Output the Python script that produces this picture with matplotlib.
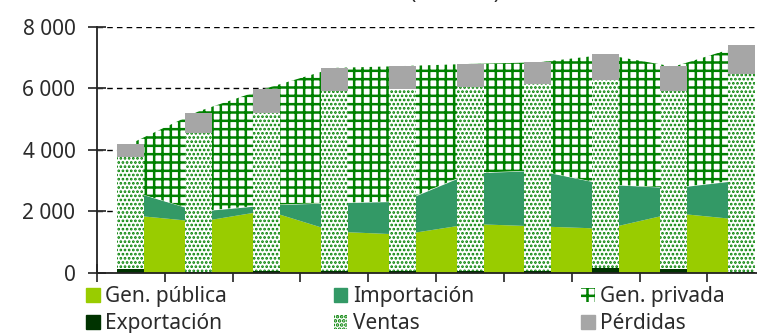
import numpy as np
import matplotlib
matplotlib.use("Agg")
import matplotlib.pyplot as plt
from matplotlib.patches import Patch

# values (GWh), one per year
gen_publica = [1885, 1672, 2034, 1350, 1256, 1600, 1522, 1445, 1952, 1735]
importacion = [772, 325, 169, 925, 1064, 1642, 1806, 1429, 810, 1282]
gen_privada = [1543, 3253, 3797, 4385, 4400, 3548, 3512, 4216, 3938, 4363]
exportacion = [110, 20, 70, 50, 60, 60, 40, 150, 130, 10]
ventas = [3640, 4510, 5130, 5865, 5910, 5965, 6082, 6113, 5775, 6448]
perdidas = [433, 670, 760, 728, 748, 758, 736, 845, 823, 942]

y_ticks = [0, 2000, 4000, 6000, 8000]
y_labels = ["0", "2 000", "4 000", "6 000", "8 000"]

C_PUB = "#99CC00"
C_IMP = "#339966"
C_GRID = "#008000"
C_EXP = "#003300"
C_PERD = "#A6A6A6"
TXT = "#2b2b2b"

plt.rcParams["font.family"] = ["Noto Sans", "DejaVu Sans"]
plt.rcParams["hatch.linewidth"] = 1.8


def set_hlw(artist, lw):
    if hasattr(artist, "set_hatch_linewidth"):
        artist.set_hatch_linewidth(lw)


n = len(gen_publica)
x = np.arange(n) + 0.5
pub = np.array(gen_publica, dtype=float)
imp_top = pub + np.array(importacion)
tot = imp_top + np.array(gen_privada)

fig = plt.figure(figsize=(7.57, 3.33), dpi=100)
ax = fig.add_axes([97 / 757, 60.3 / 333, 1 - 97 / 757, 246 / 333])

ax.fill_between(x, 0, pub, color=C_PUB, lw=0, zorder=1)
ax.fill_between(x, pub, imp_top, color=C_IMP, lw=0, zorder=1)
priv = ax.fill_between(x, imp_top, tot, facecolor="white", edgecolor=C_GRID,
                       hatch="++", lw=0, zorder=1)
set_hlw(priv, 1.8)

bw = 0.4
b1 = ax.bar(x, exportacion, bw, color=C_EXP, lw=0, zorder=2)
b2 = ax.bar(x, ventas, bw, bottom=exportacion, facecolor="white",
            edgecolor=C_GRID, hatch="....", lw=0, zorder=2)
for p in b2:
    set_hlw(p, 1.3)
b3 = ax.bar(x, perdidas, bw, bottom=np.add(exportacion, ventas),
            color=C_PERD, lw=0, zorder=2)

ax.set_xlim(0, 9.73)
ax.set_ylim(0, 8000)
ax.set_xticks(np.arange(n))
ax.set_xticklabels([])
ax.set_yticks(y_ticks)
ax.set_yticklabels(y_labels)
ax.yaxis.grid(True, linestyle=(0, (4, 3)), color="black", lw=1)
ax.set_axisbelow(True)
for s in ["top", "right"]:
    ax.spines[s].set_visible(False)
for s in ["left", "bottom"]:
    ax.spines[s].set_linewidth(1.3)
    ax.spines[s].set_color("#222222")
    ax.spines[s].set_zorder(3)
ax.tick_params(axis="both", direction="inout", length=13, width=1.3,
               color="#333333", labelsize=15, labelcolor=TXT, pad=9)

fig.text(455 / 757, 1 - 4 / 333, "(En GWh)", ha="center", va="bottom",
         fontsize=15, color=TXT)

h_priv = Patch(facecolor="white", edgecolor=C_GRID, hatch="++", lw=0)
h_ven = Patch(facecolor="white", edgecolor=C_GRID, hatch="....", lw=0)
set_hlw(h_ven, 1.3)
handles = [Patch(color=C_PUB), Patch(color=C_EXP), Patch(color=C_IMP),
           h_ven, h_priv, Patch(color=C_PERD)]
labels = ["Gen. pública", "Exportación", "Importación", "Ventas",
          "Gen. privada", "Pérdidas"]
leg = fig.legend(handles, labels, ncol=3, loc="upper left",
                 bbox_to_anchor=(86 / 757, 1 - 286 / 333), frameon=False,
                 fontsize=15, handlelength=0.65, handleheight=0.65,
                 handletextpad=0.25, columnspacing=5.15, labelspacing=0.3,
                 borderpad=0, borderaxespad=0)
for t in leg.get_texts():
    t.set_color(TXT)

fig.savefig("out.png", dpi=100)
